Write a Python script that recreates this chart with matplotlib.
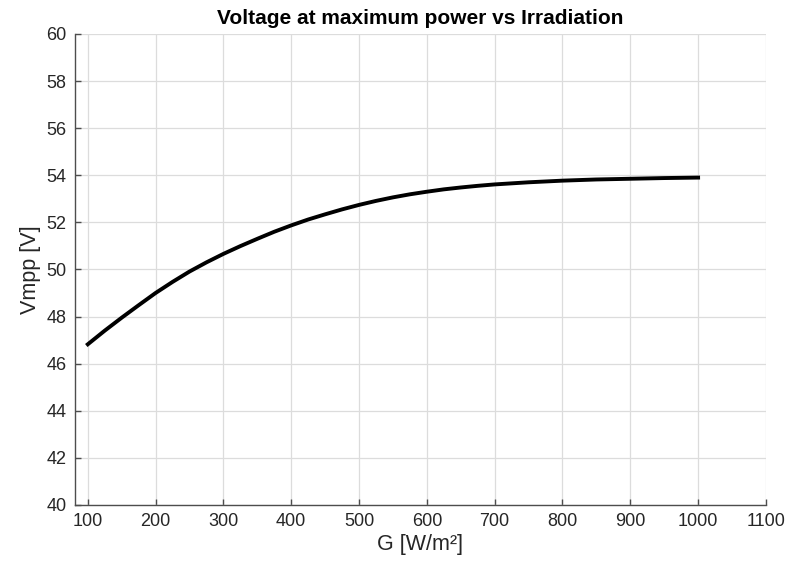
import numpy as np
import matplotlib
matplotlib.use('Agg')
import matplotlib.pyplot as plt

# irradiation [W/m^2] and voltage at max power [V]
G = [100, 125, 150, 175, 200, 225, 250, 275, 300, 325, 350, 375, 400, 425, 450,
     475, 500, 525, 550, 575, 600, 625, 650, 675, 700, 750, 800, 850, 900, 950, 1000]
Vmpp = [46.82, 47.4, 47.95, 48.48, 49.0, 49.47, 49.91, 50.3, 50.66, 50.99, 51.3,
        51.6, 51.87, 52.12, 52.34, 52.55, 52.74, 52.91, 53.06, 53.19, 53.3, 53.4,
        53.48, 53.55, 53.61, 53.7, 53.77, 53.82, 53.85, 53.88, 53.9]

xticks = list(range(100, 1101, 100))
yticks = list(range(40, 61, 2))

plt.rcParams['font.family'] = ['Liberation Sans', 'DejaVu Sans']

fig = plt.figure(figsize=(7.97, 5.66), dpi=100)
ax = fig.add_axes([0.094, 0.108, 0.867, 0.832])

ax.plot(G, Vmpp, color='black', linewidth=2.8, zorder=3)

ax.set_xlim(81, 1100)
ax.set_ylim(40, 60)
ax.set_xticks(xticks)
ax.set_yticks(yticks)
ax.grid(True, color='#dcdcdc', linewidth=0.9)
ax.set_axisbelow(True)

for s in ['top', 'right']:
    ax.spines[s].set_visible(False)
for s in ['left', 'bottom']:
    ax.spines[s].set_color('#4d4d4d')
    ax.spines[s].set_linewidth(1.0)
ax.tick_params(direction='in', length=4.5, width=1.0, color='#4d4d4d',
               labelsize=13, labelcolor='#262626', pad=6)

ax.set_title('Voltage at maximum power vs Irradiation', fontsize=15,
             fontweight='bold', pad=7)
ax.set_xlabel('G [W/m²]', fontsize=15.5, color='#262626', labelpad=3)
ax.set_ylabel('Vmpp [V]', fontsize=15.5, color='#262626', labelpad=4)

fig.savefig('out.png', dpi=100)
